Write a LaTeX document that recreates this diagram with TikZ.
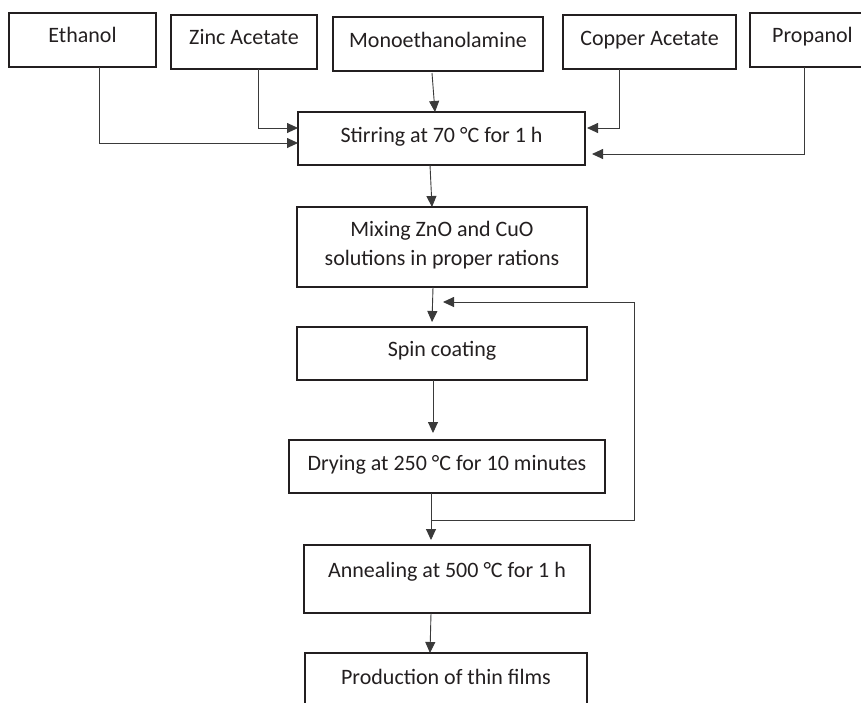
\documentclass[tikz,border=0pt]{standalone}
\usepackage{fontspec}
\setmainfont{Carlito}
\usetikzlibrary{arrows.meta,calc}
\definecolor{ink}{HTML}{231F20}
\definecolor{wire}{HTML}{3A3A3A}
\begin{document}
\begin{tikzpicture}[x=1pt,y=-1pt,
  box/.style={draw=ink, text=ink, line width=1.8pt, inner sep=0pt, outer sep=0pt,
    anchor=north west, align=center, font=\fontsize{22}{29}\selectfont, text height=15pt},
  txtup/.style={text depth=#1pt},
  conn/.style={draw=wire, line width=0.9pt},
  arr/.style={conn, -{Triangle[length=11pt,width=10pt]}}]
\useasboundingbox (0,0) rectangle (861,702);
\node[box, txtup=11, minimum width=147pt, minimum height=54pt] (eth) at (9,13) {Ethanol};
\node[box, txtup=11, minimum width=146pt, minimum height=54pt] (zinc) at (171,15) {Zinc Acetate};
\node[box, txtup=9, minimum width=210pt, minimum height=54pt] (mono) at (333,17) {Monoethanolamine};
\node[box, txtup=9, minimum width=173pt, minimum height=54pt] (copper) at (563,15) {Copper Acetate};
\node[box, txtup=11, minimum width=125pt, minimum height=54pt] (prop) at (750,13) {Propanol};
\node[box, txtup=7, minimum width=287pt, minimum height=53pt] (stir) at (298,112) {Stirring at 70 °C for 1 h};
\node[box, txtup=8, text height=44pt, minimum width=290pt, minimum height=80pt] (mix) at (297,207) {Mixing ZnO and CuO\\solutions in proper rations};
\node[box, txtup=9, minimum width=290pt, minimum height=53pt] (spin) at (297,327) {Spin coating};
\node[box, txtup=8, minimum width=316pt, minimum height=53pt] (dry) at (289,440) {Drying at 250 °C for 10 minutes};
\node[box, txtup=19, minimum width=286pt, minimum height=68pt] (ann) at (304,545) {Annealing at 500 °C for 1 h};
\node[box, txtup=20, minimum width=282pt, minimum height=67pt] (prod) at (305,653) {Production of thin films};
% inputs
\draw[arr] ($(eth.south)+(16.5,0)$) |- ($(stir.west)+(0,4.5)$);
\draw[arr] ($(zinc.south)+(14,0)$) |- ($(stir.west)+(0,-10.5)$);
\draw[arr] ($(mono.south)+(-6,2)$) -- ($(stir.north)+(-6.5,0)$);
\draw[arr] ($(copper.south)+(-30.5,0)$) |- ($(stir.east)+(2,-10.5)$);
\draw[arr] ($(prop.south)+(-8.5,0)$) |- ($(stir.east)+(7,15.5)$);
% main chain
\draw[arr] ($(stir.south)+(-11.5,0)$) -- ($(mix.north)+(-10,0)$);
\draw[arr] ($(mix.south)+(-9,0)$) -- ($(spin.north)+(-10,-5)$);
\draw[arr] ($(spin.south)+(-9,0)$) -- ($(dry.north)+(-14,-7)$);
\draw[arr] ($(dry.south)+(-16,0)$) -- ($(ann.north)+(-16,-5)$);
\draw[arr] ($(ann.south)+(-16,0)$) -- ($(prod.north)+(-16,0)$);
% feedback loop
\coordinate (fb) at ($(dry.south)+(-16,27)$);
\coordinate (loopEnd) at ($(spin.north)+(1,-25)$);
\draw[arr] (fb) -- ++(203,0) |- (loopEnd);
\end{tikzpicture}
\end{document}
